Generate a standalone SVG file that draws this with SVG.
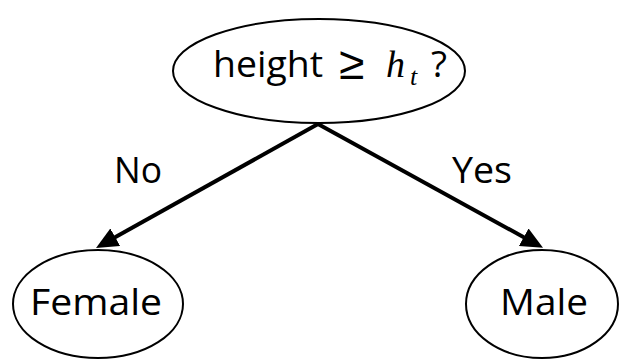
<svg xmlns="http://www.w3.org/2000/svg" width="621" height="363" viewBox="0 0 621 363">
<style>
.node{fill:#fff;stroke:#000;stroke-width:2}
.lbl{font-family:"Open Sans","Liberation Sans",sans-serif;font-size:37px;fill:#000}
.math{font-family:"Liberation Serif",serif;font-style:italic}
.edge{stroke:#000;stroke-width:4;fill:none}
</style>
<defs>
<marker id="ah" markerWidth="5.5" markerHeight="5" refX="3.5" refY="2.5" orient="auto" markerUnits="strokeWidth">
<path d="M0,0 L5.5,2.5 L0,5 Z" fill="#000"/>
</marker>
</defs>
<rect width="621" height="363" fill="#fff"/>
<g id="edges">
<line class="edge" x1="318" y1="124" x2="103" y2="244" marker-end="url(#ah)"/>
<line class="edge" x1="318" y1="124" x2="536" y2="244" marker-end="url(#ah)"/>
<text class="lbl" x="114" y="183" textLength="48" lengthAdjust="spacingAndGlyphs">No</text>
<text class="lbl" x="452" y="183" textLength="60" lengthAdjust="spacingAndGlyphs">Yes</text>
</g>
<g id="root">
<ellipse class="node" cx="319" cy="71" rx="146" ry="52"/>
<text class="lbl" y="77"><tspan x="213" textLength="110" lengthAdjust="spacingAndGlyphs">height</tspan><tspan x="339" y="79" font-family="'Liberation Sans',sans-serif" font-weight="300" font-size="46">≥</tspan><tspan class="math" x="386" y="77" font-size="38">h</tspan><tspan class="math" x="410" font-size="26" dy="8">t</tspan><tspan x="431" dy="-8">?</tspan></text>
</g>
<g id="female">
<ellipse class="node" cx="98" cy="304" rx="85" ry="54"/>
<text class="lbl" x="96" y="315" text-anchor="middle" textLength="132" lengthAdjust="spacingAndGlyphs">Female</text>
</g>
<g id="male">
<ellipse class="node" cx="542" cy="304" rx="76" ry="54"/>
<text class="lbl" x="544" y="315" text-anchor="middle" textLength="88" lengthAdjust="spacingAndGlyphs">Male</text>
</g>
</svg>
